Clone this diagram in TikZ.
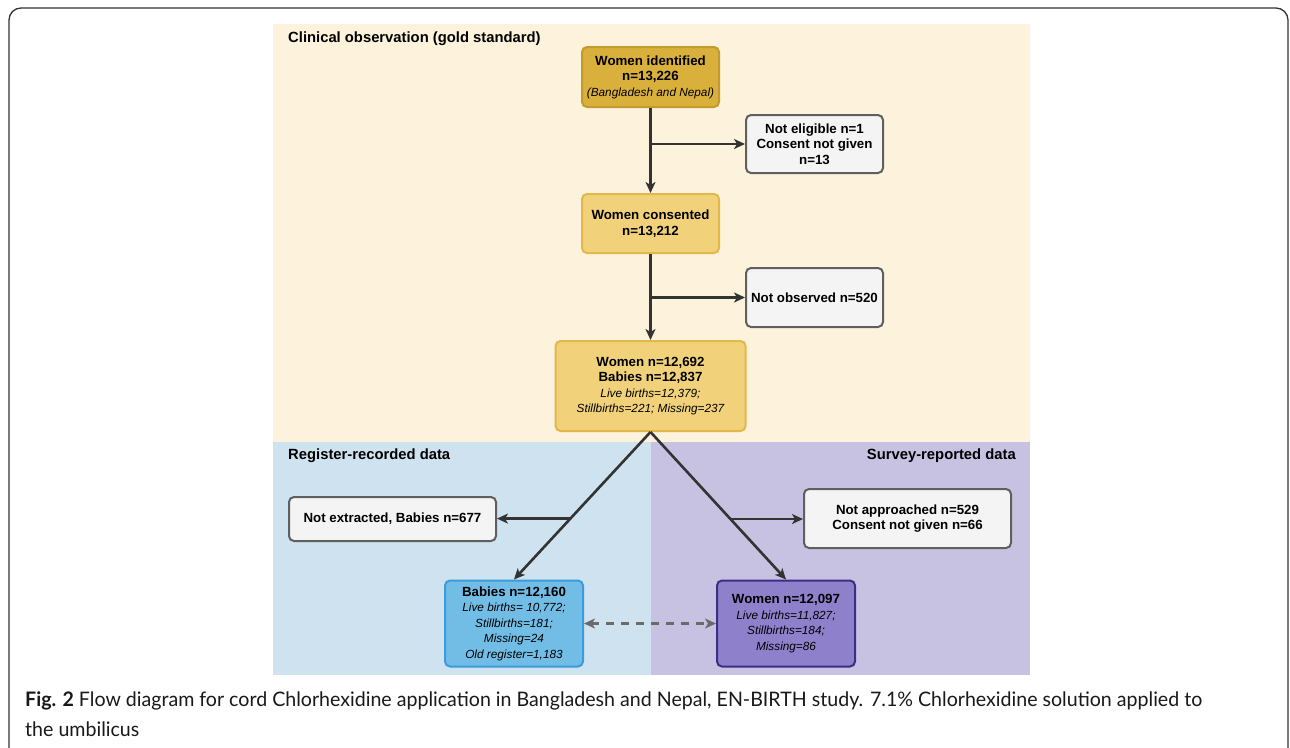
\documentclass[tikz,border=0pt]{standalone}
\usepackage{fontspec}
\setmainfont{Liberation Sans}
\newfontfamily\capfont[FakeStretch=0.98]{Lato}
\usetikzlibrary{arrows.meta,calc}
\definecolor{cream}{HTML}{FDF3DC}
\definecolor{bluebg}{HTML}{CFE2EF}
\definecolor{purplebg}{HTML}{C8C2E2}
\definecolor{goldD}{HTML}{D9B03C}
\definecolor{goldDb}{HTML}{C49A2C}
\definecolor{goldL}{HTML}{F1D27A}
\definecolor{goldLb}{HTML}{E2B84B}
\definecolor{grayF}{HTML}{F4F4F4}
\definecolor{grayB}{HTML}{5F5F5F}
\definecolor{skyF}{HTML}{72BDE6}
\definecolor{skyB}{HTML}{3A9CDB}
\definecolor{violF}{HTML}{8F80CC}
\definecolor{violB}{HTML}{3D2E85}
\definecolor{lineC}{HTML}{333333}
\definecolor{dashC}{HTML}{6A6A6A}
\tikzset{
  box/.style={draw, line width=2pt, rounded corners=5pt, align=center, inner sep=2pt,
    font=\fontsize{13.3}{15.5}\selectfont\bfseries, text=black},
  goldbox/.style={box, fill=goldD, draw=goldDb},
  lgoldbox/.style={box, fill=goldL, draw=goldLb},
  graybox/.style={box, fill=grayF, draw=grayB},
  skybox/.style={box, fill=skyF, draw=skyB},
  violbox/.style={box, fill=violF, draw=violB},
  arr/.style={draw=lineC, line width=2.6pt, -{Stealth[length=11pt,width=10pt,inset=3pt]}},
  darr/.style={draw=dashC, line width=2.6pt, dash pattern=on 8pt off 7pt,
    {Stealth[length=11pt,width=10pt,inset=3pt]}-{Stealth[length=11pt,width=10pt,inset=3pt]}},
  seclabel/.style={font=\fontsize{14.8}{17}\selectfont\bfseries, text=black, inner sep=0pt},
  captext/.style={anchor=west, inner sep=0pt, text=black!90, font=\capfont\fontsize{20}{28}\selectfont},
}
\newcommand{\itl}[1]{{\fontsize{11.8}{15.5}\selectfont\mdseries\itshape #1}}
\begin{document}
\begin{tikzpicture}[x=1pt,y=-1pt]
\useasboundingbox (0,0) rectangle (1290,747);
\clip (0,0) rectangle (1290,747);
\fill[white] (0,0) rectangle (1290,747);
% outer frame
\draw[draw=lineC, line width=1.3pt, rounded corners=12pt] (9,8) rectangle (1288,780);
% section backgrounds
\fill[cream] (273,24) rectangle (1030,442);
\fill[bluebg] (273,442) rectangle (651,675);
\fill[purplebg] (651,442) rectangle (1030,675);
\node[seclabel, anchor=west] (lclin) at (288,39) {Clinical observation (gold standard)};
\node[seclabel, anchor=west] (lreg) at (288,456) {Register-recorded data};
\node[seclabel, anchor=east] (lsur) at (1016,456) {Survey-reported data};
% nodes
\node[goldbox, minimum width=137pt, minimum height=60pt] (ident) at (650.5,77)
  {Women identified\\n=13,226\\\itl{(Bangladesh and Nepal)}};
\node[graybox, minimum width=137pt, minimum height=58pt] (nel) at (814.5,144)
  {Not eligible n=1\\Consent not given\\n=13};
\node[lgoldbox, minimum width=137pt, minimum height=59pt] (cons) at (650.5,223.5)
  {Women consented\\n=13,212};
\node[graybox, minimum width=137pt, minimum height=59pt] (nobs) at (814.5,297.5)
  {Not observed n=520};
\node[lgoldbox, minimum width=190pt, minimum height=90pt] (mid) at (650.5,386)
  {Women n=12,692\\Babies n=12,837\\\itl{Live births=12,379;}\\\itl{Stillbirths=221; Missing=237}};
\node[graybox, minimum width=207pt, minimum height=44pt] (nex) at (392.5,519)
  {Not extracted, Babies n=677};
\node[graybox, minimum width=207pt, minimum height=59pt] (nap) at (907.5,518.5)
  {Not approached n=529\\Consent not given n=66};
\node[skybox, minimum width=138pt, minimum height=86pt] (bab) at (514,623.5)
  {Babies n=12,160\\\itl{Live births= 10,772;}\\\itl{Stillbirths=181;}\\\itl{Missing=24}\\\itl{Old register=1,183}};
\node[violbox, minimum width=138pt, minimum height=86pt] (wom) at (786,623.5)
  {Women n=12,097\\\itl{Live births=11,827;}\\\itl{Stillbirths=184;}\\\itl{Missing=86}};
% connectors
\draw[arr] (ident.south) -- (cons.north);
\draw[arr] (ident.south |- nel.west) -- (nel.west);
\draw[arr] (cons.south) -- (mid.north);
\draw[arr] (cons.south |- nobs.west) -- (nobs.west);
\draw[arr] (mid.south) -- (bab.north);
\draw[arr] (mid.south) -- (wom.north);
\coordinate (bl) at ($(mid.south)!0.587!(bab.north)$);
\coordinate (br) at ($(mid.south)!0.59!(wom.north)$);
\draw[arr] (bl) -- (bl -| nex.east);
\draw[arr] (br) -- (br -| nap.west);
\draw[darr] (bab.east) -- (wom.west);
% caption
\node[captext] (cap1) at (25,701)
  {\textbf{Fig. 2} Flow diagram for cord Chlorhexidine application in Bangladesh and Nepal, EN-BIRTH study. 7.1\% Chlorhexidine solution applied to};
\node[captext] (cap2) at (25,729) {the umbilicus};
\end{tikzpicture}
\end{document}
